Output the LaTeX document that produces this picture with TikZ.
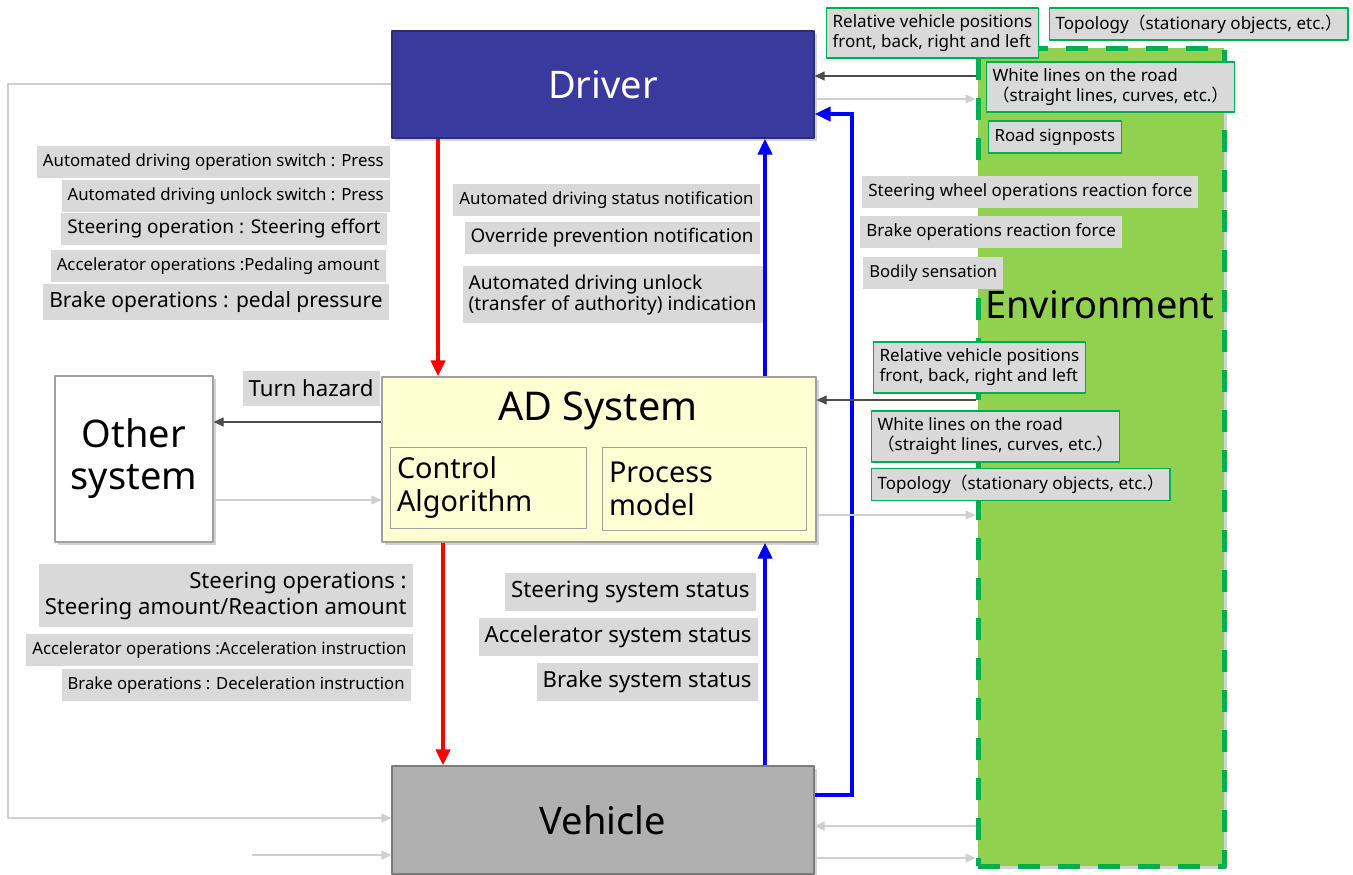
\documentclass[tikz,border=0pt]{standalone}
\usepackage{fontspec}
\setmainfont{Noto Sans}
\newfontfamily\cjk{Noto Sans CJK JP}
\usetikzlibrary{arrows.meta,shadows}
\definecolor{drvblue}{HTML}{3A3A9E}
\definecolor{adyellow}{HTML}{FFFFD3}
\definecolor{vehgray}{HTML}{B0B0B0}
\definecolor{envgreen}{HTML}{92D050}
\definecolor{dashgreen}{HTML}{00B050}
\definecolor{lblgray}{HTML}{D9D9D9}
\definecolor{boxedge}{HTML}{A0A0A0}
\definecolor{faintgray}{HTML}{CFCFCF}
\newcommand\fsz[2]{\fontsize{#1}{#2}\selectfont}
\newcommand\lp{{\cjk （}}
\newcommand\rp{{\cjk ）}}
\tikzset{
  box/.style={draw=boxedge, line width=0.6pt, drop shadow={shadow xshift=1.5pt, shadow yshift=-1.5pt, opacity=.35}},
  part/.style={draw=boxedge, line width=0.5pt, inner xsep=3.5pt, align=left, font=\fsz{14.4}{16.5}},
  lbl/.style={fill=lblgray, inner xsep=3pt, inner ysep=0pt, minimum height=16pt},
  envlbl/.style={lbl, draw=dashgreen, line width=0.6pt, align=left},
  strong/.style={line width=2pt, -{Triangle[length=8pt,width=7pt]}},
  sig/.style={line width=0.6pt, draw=black!70, -{Triangle[length=5pt,width=4.5pt]}},
  faint/.style={line width=0.6pt, draw=faintgray, -{Triangle[length=5pt,width=4.5pt,fill=faintgray]}},
}
\begin{document}
\begin{tikzpicture}[x=0.5pt,y=-0.5pt,line join=round]
  \useasboundingbox (0,0) rectangle (1353,874);
  \node[box, fill=envgreen, draw=dashgreen, line width=2.5pt, dash pattern=on 11pt off 9pt,
        minimum width=123pt, minimum height=409pt] (env) at (1101,457) {};
  \node[font=\fsz{19}{22}] (envtitle) at (1100,305) {Environment};
  \coordinate (ext) at (252,855);

  \node[box, fill=drvblue, draw=drvblue!75!black, text=white, font=\fsz{19}{22},
        minimum width=211pt, minimum height=53.5pt] (driver) at (603,84.5) {Driver};
  \node[box, fill=adyellow, minimum width=217pt, minimum height=82.5pt] (ad) at (599,459.5) {};
  \node[font=\fsz{19.8}{22}] (adtitle) at (598,411) {AD System};
  \node[part, text width=91pt, minimum height=40.5pt] (ctrl) at (488,487.5) {Control\\Algorithm};
  \node[part, text width=95pt, minimum height=41.5pt] (proc) at (704,488.5) {Process\\model};
  \node[box, fill=white, align=center, font=\fsz{19}{21},
        minimum width=79pt, minimum height=83pt] (other) at (134,459) {Other\\system};
  \node[box, fill=vehgray, draw=vehgray!70!black, font=\fsz{19}{22},
        minimum width=211pt, minimum height=54pt] (vehicle) at (603,820) {Vehicle};

  \draw[faint] (driver.west |- 0,84) -| (8,818) -- (vehicle.west |- 0,818);
  \draw[faint] (ext) -- (vehicle.west |- 0,855);
  \draw[strong, red] (driver.south -| 438,0) -- (ad.north -| 438,0);
  \draw[strong, red] (ad.south -| 443,0) -- (vehicle.north -| 443,0);
  \draw[strong, blue] (ad.north -| 765,0) -- (driver.south -| 765,0);
  \draw[strong, blue] (vehicle.north -| 765,0) -- (ad.south -| 765,0);
  \draw[strong, blue, line join=miter] (vehicle.east |- 0,795) -| (852,114) -- (driver.east |- 0,114);
  \draw[sig] (env.west |- 0,76) -- (driver.east |- 0,76);
  \draw[faint] (driver.east |- 0,99) -- (env.west |- 0,99);
  \draw[sig] (env.west |- 0,400) -- (ad.east |- 0,400);
  \draw[faint] (ad.east |- 0,515) -- (env.west |- 0,515);
  \draw[faint] (env.west |- 0,826) -- (vehicle.east |- 0,826);
  \draw[faint] (vehicle.east |- 0,858) -- (env.west |- 0,858);
  \draw[sig] (ad.west |- 0,422) -- (other.east |- 0,422);
  \draw[faint] (other.east |- 0,500) -- (ad.west |- 0,500);

  \node[lbl, anchor=east, font=\fsz{8.4}{10}] (opsw) at (390,162) {Automated driving operation switch : Press};
  \node[lbl, anchor=east, font=\fsz{8.4}{10}] (unlsw) at (390,196) {Automated driving unlock switch : Press};
  \node[lbl, anchor=east, font=\fsz{9.5}{11}] (steff) at (387,229) {Steering operation : Steering effort};
  \node[lbl, anchor=east, font=\fsz{8.4}{10}] (pedamt) at (386,266) {Accelerator operations :Pedaling amount};
  \node[lbl, anchor=east, font=\fsz{10.5}{12}, minimum height=18pt] (pedpr) at (389,302) {Brake operations : pedal pressure};
  \node[lbl, anchor=east, font=\fsz{11.1}{13}, minimum height=17.5pt] (hazard) at (380,388.5) {Turn hazard};

  \node[lbl, anchor=east, font=\fsz{8.4}{10}] (adstat) at (760,200) {Automated driving status notification};
  \node[lbl, anchor=east, font=\fsz{9.4}{11}] (ovrd) at (760,237.5) {Override prevention notification};
  \node[lbl, anchor=east, align=left, font=\fsz{9.6}{10.5}, minimum height=28.5pt] (unlind) at (763,294.5)
    {Automated driving unlock\\(transfer of authority) indication};

  \node[lbl, anchor=west, font=\fsz{8.5}{10}] (whlrf) at (862,192) {Steering wheel operations reaction force};
  \node[lbl, anchor=west, font=\fsz{8.45}{10}] (brkrf) at (860,232) {Brake operations reaction force};
  \node[lbl, anchor=west, font=\fsz{8.3}{10}] (bodily) at (863,273) {Bodily sensation};

  \node[envlbl, anchor=west, font=\fsz{8.5}{10}, minimum height=25pt] (relpos1) at (826,33)
    {Relative vehicle positions\\front, back, right and left};
  \node[envlbl, anchor=west, font=\fsz{8.5}{10}] (topo1) at (1049,24) {Topology\lp stationary objects, etc.\rp};
  \node[envlbl, anchor=west, font=\fsz{8.5}{10}, minimum height=25pt] (white1) at (986,87)
    {White lines on the road\\\lp straight lines, curves, etc.\rp};
  \node[envlbl, anchor=west, font=\fsz{8.4}{10}] (signs) at (988,137) {Road signposts};
  \node[envlbl, anchor=west, font=\fsz{8.5}{10}, minimum height=25.5pt] (relpos2) at (873,367.5)
    {Relative vehicle positions\\front, back, right and left};
  \node[envlbl, anchor=west, font=\fsz{8.5}{10}, minimum height=25.5pt] (white2) at (871,436.5)
    {White lines on the road\\\lp straight lines, curves, etc.\rp};
  \node[envlbl, anchor=west, font=\fsz{8.5}{10}] (topo2) at (871,484.5) {Topology\lp stationary objects, etc.\rp};

  \node[lbl, anchor=east, align=right, font=\fsz{11.1}{13}, minimum height=31.5pt] (steamt) at (413,595.5)
    {Steering operations :\\Steering amount/Reaction amount};
  \node[lbl, anchor=east, font=\fsz{8.4}{10}] (accinst) at (413,650) {Accelerator operations :Acceleration instruction};
  \node[lbl, anchor=east, font=\fsz{8.35}{10}] (decinst) at (411,685) {Brake operations : Deceleration instruction};

  \node[lbl, anchor=east, font=\fsz{11.2}{13}, minimum height=19pt] (stsys) at (756,592) {Steering system status};
  \node[lbl, anchor=east, font=\fsz{11.1}{13}, minimum height=19pt] (accsys) at (758,637) {Accelerator system status};
  \node[lbl, anchor=east, font=\fsz{11.1}{13}, minimum height=19pt] (brksys) at (758,682) {Brake system status};
\end{tikzpicture}
\end{document}
